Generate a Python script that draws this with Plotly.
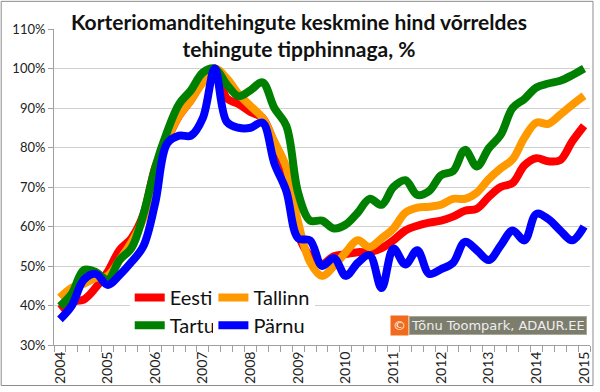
import plotly.graph_objects as go

years = list(range(2004, 2016))
quarters = [f"{y} Q{q}" for y in years for q in (1, 2, 3, 4)][:45]

eesti = [39, 41, 41.5, 44.5, 48.5, 54, 57, 63, 75, 82, 88, 92, 97, 100, 92.5, 91,
         89, 87.5, 81, 73.5, 58, 52.5, 50.5, 52.5, 53, 53.5, 53.5, 54.5, 56.5, 59,
         60.2, 61, 61.5, 62.5, 64, 64.5, 67.5, 70, 71, 75.5, 77.3, 76.5, 76.8, 81.5, 85.5]
tallinn = [42, 44.5, 45.5, 47, 47.5, 51.5, 56, 62, 74, 82, 88, 92, 96.5, 100, 97.5, 93.5,
           90.5, 87.5, 81.5, 75, 61, 51, 47.5, 50, 53.5, 56.5, 54.8, 57, 59.5, 63.5,
           64.8, 65, 65.5, 67, 67, 68.6, 72, 74.7, 77, 82.5, 86.3, 86, 88.3, 90.8, 93.1]
tartu = [39.8, 43, 49, 48.5, 46.5, 51.5, 54.5, 63, 75, 84, 91, 94.5, 99, 100, 96, 93,
         94.5, 96.5, 90, 85.5, 68.5, 61.5, 61.5, 59.5, 60.5, 63.5, 67, 65.5, 70, 71.7,
         68, 69, 73, 74, 79.4, 75.2, 79.8, 83.2, 90, 92.3, 95.2, 96.2, 96.9, 98.3, 100]
parnu = [36.5, 40, 46.5, 48, 45.2, 47.7, 51, 55, 66, 81, 83, 83, 87.5, 100, 86.5, 85,
         85, 86.3, 76, 69, 57, 56.5, 50, 52, 47.5, 50.8, 52.7, 44.4, 54.4, 50.4,
         54, 48, 49.2, 50.8, 56.1, 54, 51.5, 55.2, 59, 56.5, 63.2, 61.9, 59, 56.5, 60]

series = [
    ("Eesti", eesti, "#ff0000", "legend"),
    ("Tallinn", tallinn, "#ff9900", "legend2"),
    ("Tartu", tartu, "#008000", "legend3"),
    ("Pärnu", parnu, "#0000ff", "legend4"),
]

fig = go.Figure()
for name, vals, color, leg in series:
    fig.add_trace(go.Scatter(
        x=quarters, y=vals, name=name, mode="lines",
        line=dict(color=color, width=8, shape="spline", smoothing=1.0),
        legend=leg,
    ))

tick_text = [q[:4] if q.endswith("Q1") else "" for q in quarters]

W, H = 600, 392
ML, MR, MT, MB = 54, 8, 29, 43
pw = W - ML - MR
ph = H - MT - MB

def px(x):
    return (x - ML) / pw

def py(y):
    return (H - MB - y) / ph

def leg(x, y):
    return dict(x=px(x), xanchor="left", y=py(y), yanchor="middle",
                bgcolor="white", font=dict(size=20, color="#111111"),
                itemwidth=30, borderwidth=0)

fig.update_layout(
    width=W, height=H,
    margin=dict(l=ML, r=MR, t=MT, b=MB),
    paper_bgcolor="white", plot_bgcolor="white",
    font=dict(family="Lato, sans-serif", color="#222222"),
    showlegend=True,
    legend=leg(130, 301),
    legend2=leg(214, 301),
    legend3=leg(130, 329),
    legend4=leg(214, 329),
    xaxis=dict(
        type="category", range=[-0.5, 44.5],
        tickmode="array", tickvals=quarters, ticktext=tick_text,
        tickson="boundaries", ticks="outside", ticklen=6, tickcolor="#a0a0a0",
        tickangle=-90, tickfont=dict(size=14, color="#222222"),
        showline=True, linecolor="#a0a0a0", linewidth=1,
        showgrid=False, zeroline=False, fixedrange=True,
    ),
    yaxis=dict(
        range=[30, 110], dtick=10, ticksuffix="%",
        ticks="outside", ticklen=5, tickcolor="#a0a0a0",
        tickfont=dict(size=13, color="#222222"),
        showline=True, linecolor="#a0a0a0", linewidth=1,
        showgrid=True, gridcolor="#d0d0d0", gridwidth=1, zeroline=False,
    ),
)

fig.add_annotation(
    text="Korteriomanditehingute keskmine hind võrreldes<br>tehingute tipphinnaga, %",
    xref="paper", yref="paper", x=px(300), y=py(35), xanchor="center", yanchor="middle",
    showarrow=False, bgcolor="white", borderpad=1,
    font=dict(family="Lato, sans-serif", size=21, color="#111111", weight="bold"),
)

fig.add_annotation(
    text="Tõnu Toompark, ADAUR.EE",
    xref="paper", yref="paper", x=px(410), y=py(329.5), xanchor="left", yanchor="middle",
    showarrow=False, bgcolor="#7d7d6d", bordercolor="#a8a898", borderwidth=1, borderpad=1,
    font=dict(family="DejaVu Sans, sans-serif", size=13, color="#eeeeee"),
)
fig.add_annotation(
    text="©",
    xref="paper", yref="paper", x=px(410), y=py(329.5), xanchor="right", yanchor="middle",
    showarrow=False, bgcolor="#f26a1b", borderpad=2,
    font=dict(family="DejaVu Sans, sans-serif", size=13, color="#ffffff"),
)

fig.add_shape(type="rect", xref="paper", yref="paper",
              x0=px(1), x1=px(595), y0=py(390), y1=py(1),
              line=dict(color="#8c8c8c", width=1), fillcolor="rgba(0,0,0,0)", layer="above")

fig.write_html("out.html", config={"displayModeBar": False},
               post_script="document.body.style.margin='0';")
